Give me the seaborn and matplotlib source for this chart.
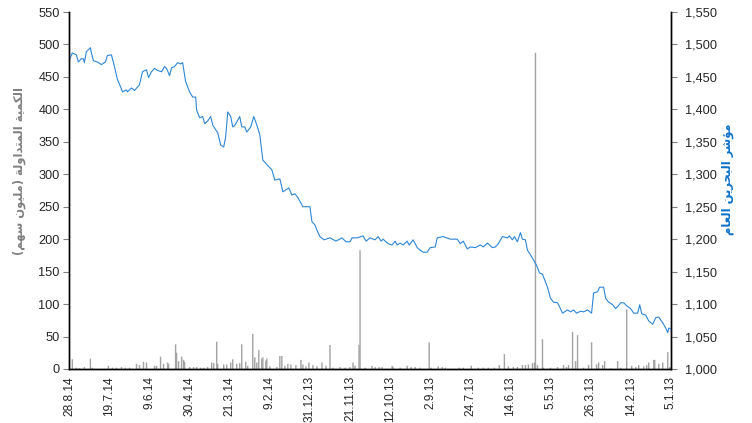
import matplotlib
matplotlib.use("Agg")
import matplotlib.pyplot as plt
import seaborn as sns
import pandas as pd

# ---------------- data ----------------
index_dates = [
    "2014-08-28", "2014-08-25", "2014-08-21", "2014-08-19", "2014-08-16", "2014-08-14", "2014-08-13",
    "2014-08-11", "2014-08-07", "2014-08-06", "2014-08-04", "2014-07-31", "2014-07-27", "2014-07-23",
    "2014-07-21", "2014-07-17", "2014-07-14", "2014-07-11", "2014-07-08", "2014-07-06", "2014-07-02",
    "2014-07-01", "2014-06-27", "2014-06-24", "2014-06-19", "2014-06-16", "2014-06-12", "2014-06-10",
    "2014-06-07", "2014-06-04", "2014-06-01", "2014-05-28", "2014-05-25", "2014-05-23", "2014-05-20",
    "2014-05-18", "2014-05-15", "2014-05-12", "2014-05-09", "2014-05-07", "2014-05-04", "2014-04-30",
    "2014-04-27", "2014-04-24", "2014-04-23", "2014-04-20", "2014-04-17", "2014-04-15", "2014-04-12",
    "2014-04-09", "2014-04-07", "2014-04-02", "2014-03-30", "2014-03-27", "2014-03-25", "2014-03-23",
    "2014-03-20", "2014-03-18", "2014-03-16", "2014-03-11", "2014-03-09", "2014-03-06", "2014-03-04",
    "2014-02-28", "2014-02-25", "2014-02-22", "2014-02-19", "2014-02-16", "2014-02-12", "2014-02-07",
    "2014-02-04", "2014-01-30", "2014-01-27", "2014-01-21", "2014-01-18", "2014-01-15", "2014-01-12",
    "2014-01-07", "2013-12-31", "2013-12-29", "2013-12-26", "2013-12-24", "2013-12-21", "2013-12-17",
    "2013-12-11", "2013-12-05", "2013-11-29", "2013-11-25", "2013-11-21", "2013-11-19", "2013-11-14",
    "2013-11-08", "2013-11-05", "2013-11-01", "2013-10-27", "2013-10-24", "2013-10-21", "2013-10-19",
    "2013-10-14", "2013-10-10", "2013-10-07", "2013-10-05", "2013-10-02", "2013-09-29", "2013-09-25",
    "2013-09-23", "2013-09-19", "2013-09-15", "2013-09-12", "2013-09-09", "2013-09-05", "2013-09-02",
    "2013-08-28", "2013-08-26", "2013-08-20", "2013-08-13", "2013-08-06", "2013-08-03", "2013-07-31",
    "2013-07-27", "2013-07-24", "2013-07-19", "2013-07-14", "2013-07-11", "2013-07-07", "2013-07-02",
    "2013-06-29", "2013-06-26", "2013-06-22", "2013-06-17", "2013-06-15", "2013-06-12", "2013-06-10",
    "2013-06-07", "2013-06-04", "2013-06-02", "2013-05-30", "2013-05-28", "2013-05-25", "2013-05-22",
    "2013-05-19", "2013-05-16", "2013-05-13", "2013-05-10", "2013-05-08", "2013-05-05", "2013-05-02",
    "2013-04-28", "2013-04-26", "2013-04-23", "2013-04-18", "2013-04-15", "2013-04-12", "2013-04-09",
    "2013-04-05", "2013-04-02", "2013-03-29", "2013-03-25", "2013-03-23", "2013-03-19", "2013-03-17",
    "2013-03-13", "2013-03-11", "2013-03-08", "2013-03-04", "2013-03-01", "2013-02-27", "2013-02-24",
    "2013-02-21", "2013-02-17", "2013-02-14", "2013-02-11", "2013-02-07", "2013-02-05", "2013-02-03",
    "2013-01-30", "2013-01-27", "2013-01-23", "2013-01-20", "2013-01-17", "2013-01-13", "2013-01-10",
    "2013-01-08", "2013-01-07", "2013-01-05",
]
index_values = [
    1476, 1487, 1484, 1473, 1478, 1478, 1472,
    1489, 1495, 1487, 1475, 1473, 1469, 1473,
    1483, 1484, 1466, 1446, 1435, 1427, 1430,
    1427, 1433, 1429, 1438, 1458, 1461, 1449,
    1458, 1463, 1460, 1458, 1466, 1463, 1452,
    1464, 1466, 1472, 1470, 1472, 1443, 1427,
    1419, 1419, 1399, 1387, 1389, 1378, 1382,
    1389, 1376, 1364, 1345, 1342, 1358, 1396,
    1389, 1373, 1375, 1389, 1373, 1373, 1365,
    1373, 1389, 1376, 1361, 1322, 1315, 1307,
    1291, 1293, 1273, 1279, 1268, 1270, 1264,
    1250, 1250, 1227, 1222, 1214, 1204, 1199,
    1202, 1197, 1202, 1196, 1196, 1202, 1202,
    1205, 1197, 1202, 1199, 1204, 1197, 1200,
    1193, 1191, 1197, 1191, 1194, 1191, 1197,
    1191, 1199, 1187, 1183, 1180, 1180, 1187,
    1188, 1202, 1204, 1200, 1200, 1193, 1197,
    1185, 1188, 1187, 1191, 1188, 1194, 1187,
    1188, 1193, 1204, 1202, 1205, 1199, 1204,
    1196, 1210, 1200, 1199, 1183, 1176, 1168,
    1160, 1148, 1146, 1134, 1126, 1109, 1103,
    1102, 1096, 1086, 1091, 1088, 1091, 1086,
    1089, 1088, 1091, 1086, 1117, 1119, 1126,
    1126, 1109, 1103, 1099, 1093, 1096, 1102,
    1102, 1096, 1093, 1086, 1086, 1099, 1085,
    1083, 1074, 1069, 1079, 1080, 1071, 1063,
    1056, 1063, 1062,
]

volume_dates = [
    "2014-08-25", "2014-08-21", "2014-08-18", "2014-08-13", "2014-08-07", "2014-08-05", "2014-07-20",
    "2014-07-16", "2014-07-12", "2014-07-07", "2014-07-03", "2014-06-29", "2014-06-22", "2014-06-19",
    "2014-06-15", "2014-06-12", "2014-06-04", "2014-06-02", "2014-05-29", "2014-05-26", "2014-05-22",
    "2014-05-21", "2014-05-14", "2014-05-13", "2014-05-11", "2014-05-08", "2014-05-06", "2014-05-05",
    "2014-04-30", "2014-04-26", "2014-04-23", "2014-04-19", "2014-04-16", "2014-04-12", "2014-04-08",
    "2014-04-06", "2014-04-03", "2014-04-02", "2014-03-27", "2014-03-24", "2014-03-20", "2014-03-18",
    "2014-03-14", "2014-03-11", "2014-03-09", "2014-03-05", "2014-03-03", "2014-02-26", "2014-02-24",
    "2014-02-22", "2014-02-20", "2014-02-17", "2014-02-16", "2014-02-13", "2014-02-12", "2014-02-09",
    "2014-02-02", "2014-01-30", "2014-01-28", "2014-01-25", "2014-01-22", "2014-01-19", "2014-01-14",
    "2014-01-09", "2014-01-07", "2014-01-04", "2014-01-01", "2013-12-28", "2013-12-24", "2013-12-19",
    "2013-12-15", "2013-12-11", "2013-12-08", "2013-12-01", "2013-11-26", "2013-11-21", "2013-11-18",
    "2013-11-16", "2013-11-12", "2013-11-11", "2013-11-06", "2013-10-30", "2013-10-27", "2013-10-23",
    "2013-10-20", "2013-10-10", "2013-10-09", "2013-10-02", "2013-09-25", "2013-09-21", "2013-09-17",
    "2013-09-12", "2013-09-03", "2013-09-01", "2013-08-25", "2013-08-21", "2013-08-18", "2013-08-04",
    "2013-07-31", "2013-07-23", "2013-07-16", "2013-07-11", "2013-07-06", "2013-06-30", "2013-06-25",
    "2013-06-20", "2013-06-16", "2013-06-11", "2013-06-07", "2013-06-02", "2013-05-30", "2013-05-27",
    "2013-05-23", "2013-05-21", "2013-05-20", "2013-05-18", "2013-05-13", "2013-05-12", "2013-05-05",
    "2013-04-28", "2013-04-22", "2013-04-19", "2013-04-17", "2013-04-13", "2013-04-10", "2013-04-08",
    "2013-04-02", "2013-03-28", "2013-03-25", "2013-03-20", "2013-03-18", "2013-03-14", "2013-03-12",
    "2013-03-06", "2013-02-27", "2013-02-24", "2013-02-18", "2013-02-13", "2013-02-09", "2013-02-06",
    "2013-02-01", "2013-01-29", "2013-01-27", "2013-01-22", "2013-01-21", "2013-01-17", "2013-01-13",
    "2013-01-08", "2013-01-06",
]
volume_values = [
    15, 2, 1, 3, 16, 2, 5,
    2, 2, 3, 2, 2, 8, 6,
    11, 10, 5, 5, 19, 8, 10,
    8, 38, 25, 12, 19, 14, 11,
    3, 3, 3, 2, 2, 3, 10,
    9, 42, 8, 7, 7, 10, 15,
    8, 9, 38, 11, 5, 54, 18,
    10, 29, 16, 18, 13, 16, 4,
    3, 20, 20, 5, 8, 7, 6,
    14, 7, 4, 10, 6, 4, 10,
    5, 37, 2, 3, 2, 3, 10,
    5, 37, 183, 2, 5, 3, 3,
    3, 5, 3, 2, 5, 3, 3,
    2, 41, 2, 4, 3, 2, 2,
    2, 5, 2, 2, 2, 2, 6,
    23, 4, 3, 3, 6, 6, 7,
    9, 10, 487, 6, 46, 2, 2,
    3, 6, 3, 6, 57, 12, 52,
    2, 6, 41, 7, 10, 6, 12,
    1, 12, 2, 92, 5, 3, 6,
    4, 6, 10, 14, 14, 8, 10,
    26, 3,
]

tick_dates = ["2014-08-28", "2014-07-19", "2014-06-09", "2014-04-30", "2014-03-21", "2014-02-09",
              "2013-12-31", "2013-11-21", "2013-10-12", "2013-09-02", "2013-07-24", "2013-06-14",
              "2013-05-05", "2013-03-26", "2013-02-14", "2013-01-05"]
tick_labels = ["28.8.14", "19.7.14", "9.6.14", "30.4.14", "21.3.14", "9.2.14", "31.12.13", "21.11.13",
               "12.10.13", "2.9.13", "24.7.13", "14.6.13", "5.5.13", "26.3.13", "14.2.13", "5.1.13"]

left_title = "الكمية المتداولة (مليون سهم)"
right_title = "مؤشر البحرين العام"

# ---------------- minimal Arabic shaping for display ----------------
FORMS = {
    "\u0627": ("\uFE8D", "\uFE8E", None, None),
    "\u0628": ("\uFE8F", "\uFE90", "\uFE91", "\uFE92"),
    "\u0629": ("\uFE93", "\uFE94", None, None),
    "\u062A": ("\uFE95", "\uFE96", "\uFE97", "\uFE98"),
    "\u062D": ("\uFEA1", "\uFEA2", "\uFEA3", "\uFEA4"),
    "\u062F": ("\uFEA9", "\uFEAA", None, None),
    "\u0631": ("\uFEAD", "\uFEAE", None, None),
    "\u0633": ("\uFEB1", "\uFEB2", "\uFEB3", "\uFEB4"),
    "\u0634": ("\uFEB5", "\uFEB6", "\uFEB7", "\uFEB8"),
    "\u0639": ("\uFEC9", "\uFECA", "\uFECB", "\uFECC"),
    "\u0643": ("\uFED9", "\uFEDA", "\uFEDB", "\uFEDC"),
    "\u0644": ("\uFEDD", "\uFEDE", "\uFEDF", "\uFEE0"),
    "\u0645": ("\uFEE1", "\uFEE2", "\uFEE3", "\uFEE4"),
    "\u0646": ("\uFEE5", "\uFEE6", "\uFEE7", "\uFEE8"),
    "\u0647": ("\uFEE9", "\uFEEA", "\uFEEB", "\uFEEC"),
    "\u0648": ("\uFEED", "\uFEEE", None, None),
    "\u064A": ("\uFEF1", "\uFEF2", "\uFEF3", "\uFEF4"),
    "\u0624": ("\uFE85", "\uFE86", None, None),
}


def shape_arabic(text):
    out = []
    n = len(text)
    for i, c in enumerate(text):
        if c not in FORMS:
            out.append(c)
            continue
        prev = text[i - 1] if i > 0 else None
        nxt = text[i + 1] if i + 1 < n else None
        join_prev = prev in FORMS and FORMS[prev][2] is not None
        join_next = nxt in FORMS and FORMS[c][2] is not None
        iso, fin, ini, med = FORMS[c]
        if join_prev and join_next:
            out.append(med)
        elif join_prev:
            out.append(fin)
        elif join_next:
            out.append(ini)
        else:
            out.append(iso)
    vis = "".join(out)[::-1]
    vis = vis.replace("(", "\0").replace(")", "(").replace("\0", ")")
    return vis


# ---------------- plot ----------------
sns.set_theme(style="white")
plt.rcParams["font.family"] = ["Liberation Sans", "DejaVu Sans"]

df_idx = pd.DataFrame({"date": pd.to_datetime(index_dates), "index": index_values})
df_vol = pd.DataFrame({"date": pd.to_datetime(volume_dates), "volume": volume_values})

fig = plt.figure(figsize=(7.52, 4.23), dpi=100)
ax = fig.add_axes([0.0922, 0.1277, 0.7998, 0.8439])
ax2 = ax.twinx()

ax.bar(df_vol["date"], df_vol["volume"], width=1.4, color="#A3A3A3", linewidth=0, snap=False)
sns.lineplot(data=df_idx, x="date", y="index", ax=ax2, color="#2E86D6", linewidth=0.8)

xmin = pd.Timestamp("2013-01-05")
xmax = pd.Timestamp("2014-08-28")
ax.set_xlim(xmax, xmin)
ax.set_ylim(0, 550)
ax2.set_ylim(1000, 1550)

ax.set_yticks(range(0, 551, 50))
ax2.set_yticks(range(1000, 1551, 50))
ax2.set_yticklabels([f"{v:,}" for v in range(1000, 1551, 50)])

ax.set_xticks(pd.to_datetime(tick_dates))
ax.set_xticklabels(tick_labels, rotation=90)

for a in (ax, ax2):
    a.grid(False)
    a.spines["top"].set_visible(False)
    for s in ("left", "right", "bottom"):
        a.spines[s].set_color("black")
        a.spines[s].set_linewidth(1.0)

ax.tick_params(axis="y", which="major", direction="out", length=4, width=0.8, color="#808080",
               labelsize=9.2, labelcolor="#262626", pad=3, left=True)
ax2.tick_params(axis="y", which="major", direction="out", length=4, width=0.8, color="#808080",
                labelsize=9.2, labelcolor="#262626", pad=6, right=True)
ax.tick_params(axis="x", length=0, labelsize=8.6, labelcolor="#262626", pad=5)

ax.set_xlabel("")
ax2.set_xlabel("")
ax.set_ylabel(shape_arabic(left_title), family=["DejaVu Sans"], fontweight="bold", fontsize=8.3,
              color="#808080")
ax2.set_ylabel(shape_arabic(right_title), family=["DejaVu Sans"], fontweight="bold", fontsize=8.3,
               color="#0A70C8", rotation=90)
ax.yaxis.set_label_coords(-0.072, 0.555)
ax2.yaxis.set_label_coords(1.084, 0.532)

fig.savefig("out.png", dpi=100)
